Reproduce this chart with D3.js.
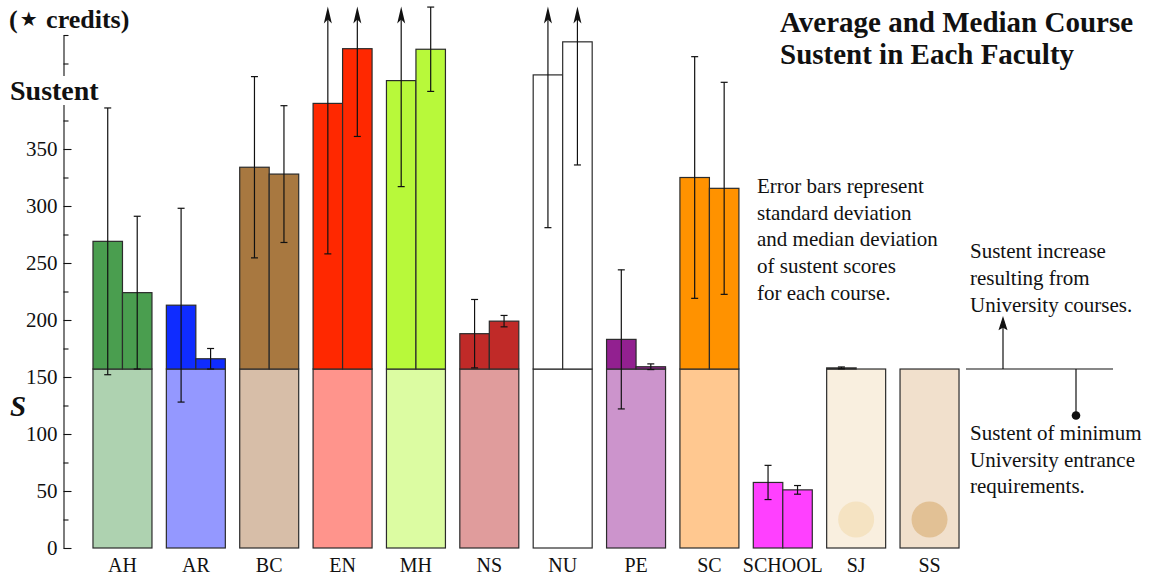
<!DOCTYPE html>
<html>
<head>
<meta charset="utf-8">
<script src="https://cdn.jsdelivr.net/npm/d3@7"></script>
<style>
  body { margin: 0; background: #fff; }
  svg { display: block; }
  text { font-family: "Liberation Serif", "Times New Roman", serif; fill: #111; }
</style>
</head>
<body>
<svg id="chart" width="1153" height="577"></svg>
<script>
// Faculty course sustent: average and median per faculty, with deviations
const faculties = ["AH", "AR", "BC", "EN", "MH", "NS", "NU", "PE", "SC", "SCHOOL", "SJ", "SS"];
const averageSustent = [269, 213, 334, 390, 410, 188, 415, 183, 325, 57.5, 158, 157];
const medianSustent = [224, 166, 328, 438, 437.5, 199, 444, 159, 315.5, 51, 157, 157];
const averageDeviation = [117, 85, 79.5, 132, 93, 30, 134, 61, 106, 15, 0.8, 0];
const medianDeviation = [67, 9, 60, 77, 37, 5, 108, 2.5, 93, 3.8, 0, 0];
const entranceSustent = 157;   // minimum University entrance requirement
const upperColors = ["#4a9e4f", "#0f2cff", "#a87840", "#ff2800", "#b8f93a", "#c02a28",
                     "#ffffff", "#922090", "#ff9200", "#ff40ff", "#f9efdf", "#f1e0cc"];
const lowerColors = ["#aed2b0", "#9498ff", "#d7bea8", "#ff948c", "#dcfca2", "#e09c9c",
                     "#ffffff", "#cc94cc", "#ffc890", "#ff40ff", "#f9efdf", "#f1e0cc"];
const markerFaculties = ["SJ", "SS"];
const markerValue = 25;
const markerColors = ["#f5e3c2", "#e2c195"];
const yMajorTicks = [0, 50, 100, 150, 200, 250, 300, 350];
const yMinorTicks = [25, 75, 125, 175, 225, 275, 325, 375, 400, 425, 450];
const yTopValue = 475;

const svg = d3.select("#chart");

const x = d3.scaleBand()
  .domain(faculties)
  .range([78.6, 973.4])
  .paddingInner(0.196)
  .paddingOuter(0.196);

const y = d3.scaleLinear().domain([0, yTopValue]).range([548, 6.5]);
const bw = x.bandwidth();
const half = bw / 2;

const rows = faculties.map((f, i) => ({
  f, i,
  avg: averageSustent[i], med: medianSustent[i],
  avgDev: averageDeviation[i], medDev: medianDeviation[i],
  upper: upperColors[i], lower: lowerColors[i]
}));

const barStroke = "#2b2b2b";

// Lower block: sustent up to the entrance level
svg.append("g").selectAll("rect")
  .data(rows.filter(d => d.avg >= entranceSustent))
  .join("rect")
  .attr("x", d => x(d.f))
  .attr("y", y(entranceSustent))
  .attr("width", bw)
  .attr("height", y(0) - y(entranceSustent))
  .attr("fill", d => d.lower)
  .attr("stroke", barStroke)
  .attr("stroke-width", 1.2);

// Upper blocks: average (left) and median (right)
const subBars = [];
rows.forEach(d => {
  [["avg", 0], ["med", 1]].forEach(([k, j]) => {
    const v = d[k];
    const base = d.avg >= entranceSustent ? entranceSustent : 0;
    if (v > base) subBars.push({ f: d.f, j, v, base, color: d.upper });
  });
});

svg.append("g").selectAll("rect")
  .data(subBars)
  .join("rect")
  .attr("x", d => x(d.f) + d.j * half)
  .attr("y", d => y(d.v))
  .attr("width", half)
  .attr("height", d => y(d.base) - y(d.v))
  .attr("fill", d => d.color)
  .attr("stroke", barStroke)
  .attr("stroke-width", 1.2);

// Markers inside faculties without course data
svg.append("g").selectAll("circle")
  .data(markerFaculties)
  .join("circle")
  .attr("cx", f => x(f) + half)
  .attr("cy", y(markerValue))
  .attr("r", 18)
  .attr("fill", (f, i) => markerColors[i]);

// Error bars
const errs = [];
rows.forEach(d => {
  if (d.avgDev > 0) errs.push({ cx: x(d.f) + half / 2, v: d.avg, dev: d.avgDev });
  if (d.medDev > 0) errs.push({ cx: x(d.f) + half * 1.5, v: d.med, dev: d.medDev });
});
const eg = svg.append("g").attr("stroke", "#111").attr("stroke-width", 1.2);
errs.forEach(e => {
  const lo = e.v - e.dev, hi = e.v + e.dev;
  const clipped = hi > yTopValue;
  const yHi = clipped ? y(yTopValue) : y(hi);
  eg.append("line").attr("x1", e.cx).attr("x2", e.cx).attr("y1", y(lo)).attr("y2", clipped ? yHi + 12 : yHi);
  eg.append("line").attr("x1", e.cx - 3.5).attr("x2", e.cx + 3.5).attr("y1", y(lo)).attr("y2", y(lo));
  if (clipped) {
    eg.append("path")
      .attr("d", `M${e.cx},${yHi} L${e.cx - 4},${yHi + 17} L${e.cx},${yHi + 13} L${e.cx + 4},${yHi + 17} Z`)
      .attr("fill", "#111").attr("stroke", "none");
  } else {
    eg.append("line").attr("x1", e.cx - 3.5).attr("x2", e.cx + 3.5).attr("y1", yHi).attr("y2", yHi);
  }
});

// Y axis
const yAxisScale = y.copy().domain([0, 450]).range([y(0), y(450)]);
const axisX = 63.5;
svg.append("g")
  .attr("transform", `translate(${axisX},0)`)
  .call(d3.axisLeft(yAxisScale).tickValues(yMajorTicks).tickSize(-8).tickSizeOuter(0).tickPadding(6))
  .call(g => g.selectAll("path,line").attr("stroke", "#111").attr("stroke-width", 1.1))
  .call(g => g.selectAll("text")
    .attr("font-family", "Liberation Serif").attr("font-size", 21).attr("fill", "#111").attr("dy", "0.32em"));
svg.append("g")
  .attr("transform", `translate(${axisX},0)`)
  .call(d3.axisLeft(yAxisScale).tickValues(yMinorTicks).tickSize(-5).tickFormat(() => ""))
  .call(g => g.select(".domain").remove())
  .call(g => g.selectAll("line").attr("stroke", "#111").attr("stroke-width", 1.1));

// Axis annotations
svg.append("rect").attr("x", 8).attr("y", y(400) - 16).attr("width", 97).attr("height", 29).attr("fill", "#fff");
svg.append("text").attr("x", 10).attr("y", y(400) + 8)
  .attr("font-size", 28).attr("font-weight", "bold").text("Sustent");
svg.append("text").attr("x", 10).attr("y", y(125) + 10)
  .attr("font-size", 29).attr("font-weight", "bold").attr("font-style", "italic").text("S");

// Units label, built from separate pieces so each keeps its own font
const unitParts = [
  { s: "(", family: "Liberation Serif", size: 26, dy: 0, gap: 2 },
  { s: "\u2605", family: "DejaVu Sans", size: 20, dy: -2, gap: 2 },
  { s: "\u00a0credits)", family: "Liberation Serif", size: 26, dy: 0, gap: 0 }
];
let ux = 9;
unitParts.forEach(p => {
  const t = svg.append("text")
    .attr("x", ux).attr("y", 28 + p.dy)
    .attr("font-weight", "bold")
    .style("font-family", `"${p.family}"`)
    .style("font-size", p.size + "px")
    .text(p.s);
  ux += t.node().getComputedTextLength() + p.gap;
});

// X labels
svg.append("g").selectAll("text")
  .data(faculties)
  .join("text")
  .attr("x", f => x(f) + half)
  .attr("y", 572)
  .attr("text-anchor", "middle")
  .attr("font-size", 20)
  .text(f => f);

// Title
const title = svg.append("text").attr("x", 780).attr("font-size", 29).attr("font-weight", "bold");
title.append("tspan").attr("x", 780).attr("y", 32).text("Average and Median Course");
title.append("tspan").attr("x", 780).attr("y", 64).text("Sustent in Each Faculty");

// Notes
const note = (lines, x0, y0, dy) => {
  const t = svg.append("text").attr("font-size", 21);
  lines.forEach((s, k) => t.append("tspan").attr("x", x0).attr("y", y0 + k * dy).text(s));
};
note(["Error bars represent", "standard deviation", "and median deviation",
      "of sustent scores", "for each course."], 757, 193, 26.7);
note(["Sustent increase", "resulting from", "University courses."], 970, 258, 27);
note(["Sustent of minimum", "University entrance", "requirements."], 970, 440, 26.7);

// Legend diagram for the two bar segments
const ly = y(entranceSustent);
const lg = svg.append("g").attr("stroke", "#111").attr("stroke-width", 1.2);
lg.append("line").attr("x1", 966).attr("x2", 1113).attr("y1", ly).attr("y2", ly);
lg.append("line").attr("x1", 1003).attr("x2", 1003).attr("y1", ly).attr("y2", 326);
lg.append("path").attr("d", `M1003,318 L999.5,329 L1003,327 L1006.5,329 Z`).attr("fill", "#111");
lg.append("line").attr("x1", 1076).attr("x2", 1076).attr("y1", ly).attr("y2", 415);
svg.append("circle").attr("cx", 1076).attr("cy", 415.5).attr("r", 4.3).attr("fill", "#111");
</script>
</body>
</html>
